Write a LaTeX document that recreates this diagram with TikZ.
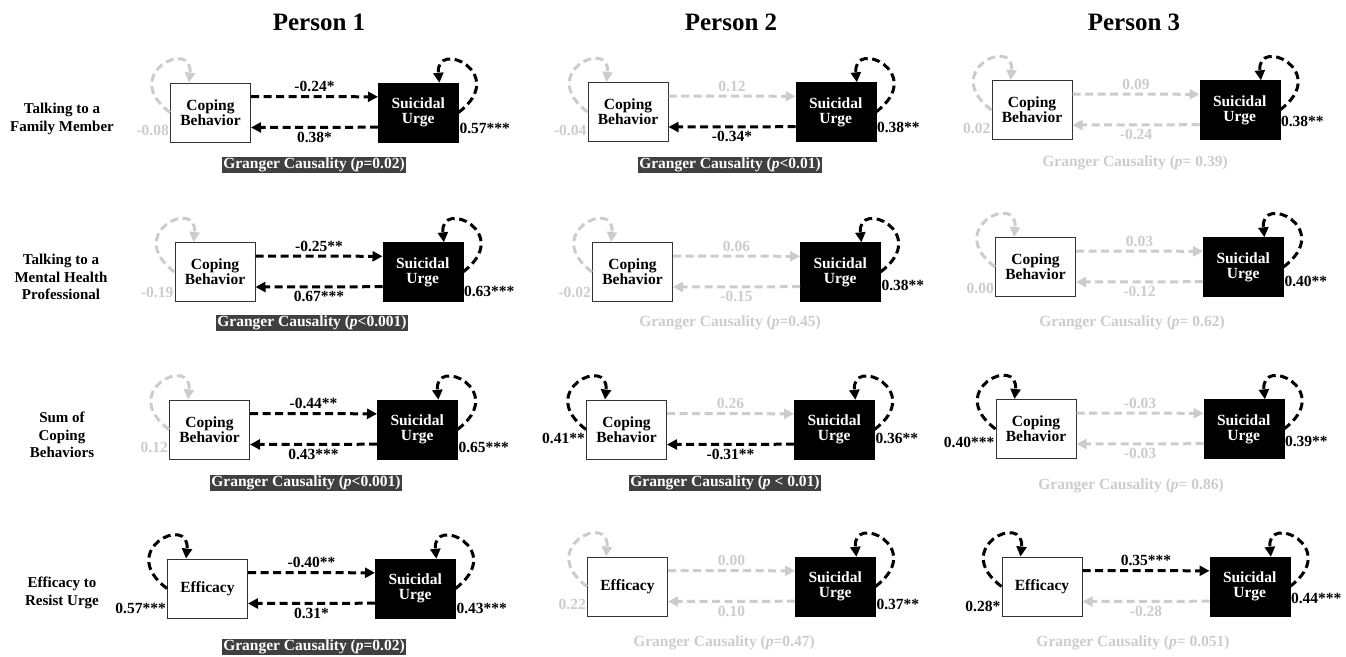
\documentclass[tikz,border=0pt]{standalone}
\usepackage{fontspec}
\setmainfont{Liberation Serif}
\usetikzlibrary{arrows.meta, positioning}

\definecolor{nsgray}{gray}{0.8}
\definecolor{gcfill}{gray}{0.25}

\tikzset{
  head/.style={font=\bfseries\fontsize{25}{30}\selectfont},
  rowlab/.style={align=center, font=\bfseries\fontsize{15}{17.5}\selectfont},
  cbox/.style={draw=black!80, line width=1pt, fill=white, minimum width=80pt,
    minimum height=59pt, align=center, inner sep=1pt},
  ubox/.style={draw, fill=black, text=white, minimum width=80pt,
    minimum height=59pt, align=center, inner sep=1pt},
  sig/.style={color=black, line width=3pt, dash pattern=on 8pt off 4.5pt,
    -{Triangle[length=10pt, width=10pt]}},
  nsig/.style={sig, color=nsgray},
  sigtxt/.style={text=black},
  nstxt/.style={text=nsgray},
  lablc/.style={anchor=east, inner sep=1pt},
  labru/.style={anchor=west, inner sep=1pt},
  loopleft/.style={to path={.. controls +(143:65pt) and +(84:45pt) .. (\tikztotarget)}},
  loopright/.style={to path={.. controls +(37:65pt) and +(96:45pt) .. (\tikztotarget)}},
  gsig/.style={fill=gcfill, text=white, inner xsep=1pt, inner ysep=0.5pt},
  gns/.style={text=nsgray, inner xsep=1pt, inner ysep=0.5pt}
}

\begin{document}
\begin{tikzpicture}[x=1pt, y=-1pt, font=\bfseries\fontsize{15.5}{15}\selectfont]
\useasboundingbox (0,0) rectangle (1346,656);

% headings
\node[head] (p1) at (319,22) {Person 1};
\node[head] (p2) at (731,22) {Person 2};
\node[head] (p3) at (1134,22) {Person 3};

% row labels
\node[rowlab] (r1) at (62,119) {Talking to a\\Family Member};
\node[rowlab] (r2) at (61,277) {Talking to a\\Mental Health\\Professional};
\node[rowlab] (r3) at (62,435) {Sum of\\Coping\\Behaviors};
\node[rowlab] (r4) at (62,593) {Efficacy to\\Resist Urge};

% row 1, person 1
\node[cbox] (c11) at (210.5,112.5) {Coping\\Behavior};
\node[ubox, right=127pt of c11] (u11) {Suicidal\\Urge};
\draw[sig] ([yshift=-14pt]c11.north east) -- node[above] {-0.24*} ([yshift=-14pt]u11.north west);
\draw[sig] ([yshift=15pt]u11.south west) -- node[below] {0.38*} ([yshift=15pt]c11.south east);
\draw[nsig, loopleft] (c11.west) to ([xshift=19pt]c11.north west);
\draw[sig, loopright] (u11.east) to ([xshift=-19pt]u11.north east);
\node[nstxt, lablc] (lc11) at ([yshift=12pt]c11.south west) {-0.08};
\node[sigtxt, labru] (lu11) at ([yshift=14pt]u11.south east) {0.57***};
\node[gsig] (g11) at (314,165) {Granger Causality (\textit{p}=0.02)};

% row 1, person 2
\node[cbox] (c12) at (628,112) {Coping\\Behavior};
\node[ubox, right=127pt of c12] (u12) {Suicidal\\Urge};
\draw[nsig] ([yshift=-14pt]c12.north east) -- node[above] {0.12} ([yshift=-14pt]u12.north west);
\draw[sig] ([yshift=15pt]u12.south west) -- node[below] {-0.34*} ([yshift=15pt]c12.south east);
\draw[nsig, loopleft] (c12.west) to ([xshift=19pt]c12.north west);
\draw[sig, loopright] (u12.east) to ([xshift=-19pt]u12.north east);
\node[nstxt, lablc] (lc12) at ([yshift=12pt]c12.south west) {-0.04};
\node[sigtxt, labru] (lu12) at ([yshift=14pt]u12.south east) {0.38**};
\node[gsig] (g12) at (730,165) {Granger Causality (\textit{p}<0.01)};

% row 1, person 3
\node[cbox] (c13) at (1032,110) {Coping\\Behavior};
\node[ubox, right=127pt of c13] (u13) {Suicidal\\Urge};
\draw[nsig] ([yshift=-14pt]c13.north east) -- node[above] {0.09} ([yshift=-14pt]u13.north west);
\draw[nsig] ([yshift=15pt]u13.south west) -- node[below] {-0.24} ([yshift=15pt]c13.south east);
\draw[nsig, loopleft] (c13.west) to ([xshift=19pt]c13.north west);
\draw[sig, loopright] (u13.east) to ([xshift=-19pt]u13.north east);
\node[nstxt, lablc] (lc13) at ([yshift=12pt]c13.south west) {0.02};
\node[sigtxt, labru] (lu13) at ([yshift=18pt]u13.south east) {0.38**};
\node[gns] (g13) at (1135,163) {Granger Causality (\textit{p}= 0.39)};

% row 2, person 1
\node[cbox] (c21) at (215,272) {Coping\\Behavior};
\node[ubox, right=127pt of c21] (u21) {Suicidal\\Urge};
\draw[sig] ([yshift=-14pt]c21.north east) -- node[above] {-0.25**} ([yshift=-14pt]u21.north west);
\draw[sig] ([yshift=15pt]u21.south west) -- node[below] {0.67***} ([yshift=15pt]c21.south east);
\draw[nsig, loopleft] (c21.west) to ([xshift=19pt]c21.north west);
\draw[sig, loopright] (u21.east) to ([xshift=-19pt]u21.north east);
\node[nstxt, lablc] (lc21) at ([yshift=10pt]c21.south west) {-0.19};
\node[sigtxt, labru] (lu21) at ([yshift=10pt]u21.south east) {0.63***};
\node[gsig] (g21) at (312,323) {Granger Causality (\textit{p}<0.001)};

% row 2, person 2
\node[cbox] (c22) at (632.5,272) {Coping\\Behavior};
\node[ubox, right=127pt of c22] (u22) {Suicidal\\Urge};
\draw[nsig] ([yshift=-14pt]c22.north east) -- node[above] {0.06} ([yshift=-14pt]u22.north west);
\draw[nsig] ([yshift=15pt]u22.south west) -- node[below] {-0.15} ([yshift=15pt]c22.south east);
\draw[nsig, loopleft] (c22.west) to ([xshift=19pt]c22.north west);
\draw[sig, loopright] (u22.east) to ([xshift=-19pt]u22.north east);
\node[nstxt, lablc] (lc22) at ([yshift=10pt]c22.south west) {-0.02};
\node[sigtxt, labru] (lu22) at ([yshift=16pt]u22.south east) {0.38**};
\node[gns] (g22) at (730,323) {Granger Causality (\textit{p}=0.45)};

% row 2, person 3
\node[cbox] (c23) at (1035.5,267) {Coping\\Behavior};
\node[ubox, right=127pt of c23] (u23) {Suicidal\\Urge};
\draw[nsig] ([yshift=-14pt]c23.north east) -- node[above] {0.03} ([yshift=-14pt]u23.north west);
\draw[nsig] ([yshift=15pt]u23.south west) -- node[below] {-0.12} ([yshift=15pt]c23.south east);
\draw[nsig, loopleft] (c23.west) to ([xshift=19pt]c23.north west);
\draw[sig, loopright] (u23.east) to ([xshift=-19pt]u23.north east);
\node[nstxt, lablc] (lc23) at ([yshift=9pt]c23.south west) {0.00};
\node[sigtxt, labru] (lu23) at ([yshift=15pt]u23.south east) {0.40**};
\node[gns] (g23) at (1132,323) {Granger Causality (\textit{p}= 0.62)};

% row 3, person 1
\node[cbox] (c31) at (209.5,429.5) {Coping\\Behavior};
\node[ubox, right=127pt of c31] (u31) {Suicidal\\Urge};
\draw[sig] ([yshift=-14pt]c31.north east) -- node[above] {-0.44**} ([yshift=-14pt]u31.north west);
\draw[sig] ([yshift=15pt]u31.south west) -- node[below] {0.43***} ([yshift=15pt]c31.south east);
\draw[nsig, loopleft] (c31.west) to ([xshift=19pt]c31.north west);
\draw[sig, loopright] (u31.east) to ([xshift=-19pt]u31.north east);
\node[nstxt, lablc] (lc31) at ([yshift=12pt]c31.south west) {0.12};
\node[sigtxt, labru] (lu31) at ([yshift=12pt]u31.south east) {0.65***};
\node[gsig] (g31) at (306,483) {Granger Causality (\textit{p}<0.001)};

% row 3, person 2
\node[cbox] (c32) at (626.5,429.5) {Coping\\Behavior};
\node[ubox, right=127pt of c32] (u32) {Suicidal\\Urge};
\draw[nsig] ([yshift=-14pt]c32.north east) -- node[above] {0.26} ([yshift=-14pt]u32.north west);
\draw[sig] ([yshift=15pt]u32.south west) -- node[below] {-0.31**} ([yshift=15pt]c32.south east);
\draw[sig, loopleft] (c32.west) to ([xshift=19pt]c32.north west);
\draw[sig, loopright] (u32.east) to ([xshift=-19pt]u32.north east);
\node[sigtxt, lablc] (lc32) at ([yshift=21pt]c32.south west) {0.41**};
\node[sigtxt, labru] (lu32) at ([yshift=21pt]u32.south east) {0.36**};
\node[gsig] (g32) at (725,483) {Granger Causality (\textit{p} < 0.01)};

% row 3, person 3
\node[cbox] (c33) at (1036,429) {Coping\\Behavior};
\node[ubox, right=127pt of c33] (u33) {Suicidal\\Urge};
\draw[nsig] ([yshift=-14pt]c33.north east) -- node[above] {-0.03} ([yshift=-14pt]u33.north west);
\draw[nsig] ([yshift=15pt]u33.south west) -- node[below] {-0.03} ([yshift=15pt]c33.south east);
\draw[sig, loopleft] (c33.west) to ([xshift=19pt]c33.north west);
\draw[sig, loopright] (u33.east) to ([xshift=-19pt]u33.north east);
\node[sigtxt, lablc] (lc33) at ([yshift=17pt]c33.south west) {0.40***};
\node[sigtxt, labru] (lu33) at ([yshift=17pt]u33.south east) {0.39**};
\node[gns] (g33) at (1131,486) {Granger Causality (\textit{p}= 0.86)};

% row 4, person 1
\node[cbox] (c41) at (207.5,588.5) {Efficacy};
\node[ubox, right=127pt of c41] (u41) {Suicidal\\Urge};
\draw[sig] ([yshift=-14pt]c41.north east) -- node[above] {-0.40**} ([yshift=-14pt]u41.north west);
\draw[sig] ([yshift=15pt]u41.south west) -- node[below] {0.31*} ([yshift=15pt]c41.south east);
\draw[sig, loopleft] (c41.west) to ([xshift=19pt]c41.north west);
\draw[sig, loopright] (u41.east) to ([xshift=-19pt]u41.north east);
\node[sigtxt, lablc] (lc41) at ([yshift=10pt]c41.south west) {0.57***};
\node[sigtxt, labru] (lu41) at ([yshift=10pt]u41.south east) {0.43***};
\node[gsig] (g41) at (314,647) {Granger Causality (\textit{p}=0.02)};

% row 4, person 2
\node[cbox] (c42) at (627.5,586.5) {Efficacy};
\node[ubox, right=127pt of c42] (u42) {Suicidal\\Urge};
\draw[nsig] ([yshift=-14pt]c42.north east) -- node[above] {0.00} ([yshift=-14pt]u42.north west);
\draw[nsig] ([yshift=15pt]u42.south west) -- node[below] {0.10} ([yshift=15pt]c42.south east);
\draw[nsig, loopleft] (c42.west) to ([xshift=19pt]c42.north west);
\draw[sig, loopright] (u42.east) to ([xshift=-19pt]u42.north east);
\node[nstxt, lablc] (lc42) at ([yshift=12pt]c42.south west) {0.22};
\node[sigtxt, labru] (lu42) at ([yshift=12pt]u42.south east) {0.37**};
\node[gns] (g42) at (724,643) {Granger Causality (\textit{p}=0.47)};

% row 4, person 3
\node[cbox] (c43) at (1042,586.5) {Efficacy};
\node[ubox, right=127pt of c43] (u43) {Suicidal\\Urge};
\draw[sig] ([yshift=-14pt]c43.north east) -- node[above] {0.35***} ([yshift=-14pt]u43.north west);
\draw[nsig] ([yshift=15pt]u43.south west) -- node[below] {-0.28} ([yshift=15pt]c43.south east);
\draw[sig, loopleft] (c43.west) to ([xshift=19pt]c43.north west);
\draw[sig, loopright] (u43.east) to ([xshift=-19pt]u43.north east);
\node[sigtxt, lablc] (lc43) at ([yshift=10pt]c43.south west) {0.28*};
\node[sigtxt, labru] (lu43) at ([yshift=18pt]u43.south east) {0.44***};
\node[gns] (g43) at (1133,643) {Granger Causality (\textit{p}= 0.051)};
\end{tikzpicture}
\end{document}
